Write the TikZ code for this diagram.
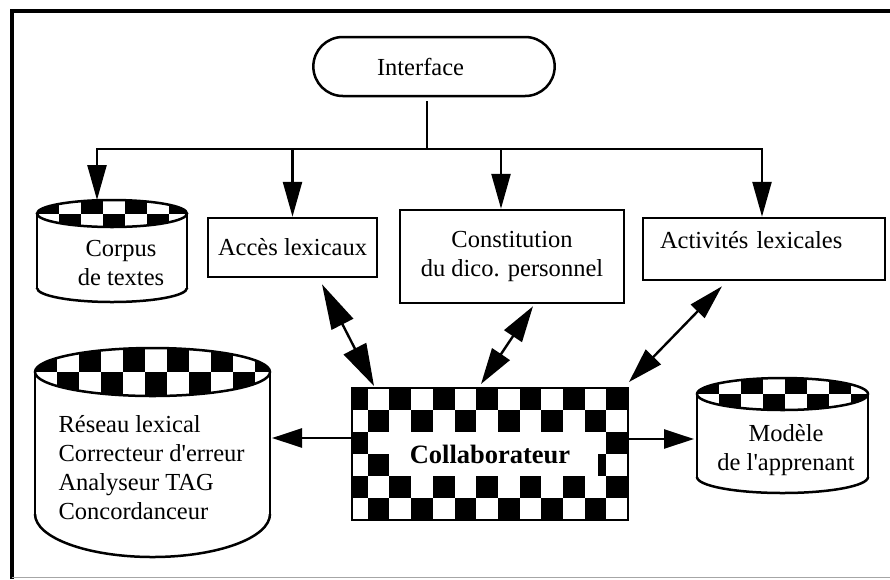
\documentclass[tikz,border=0pt]{standalone}
\usepackage{fontspec}
\setmainfont{Liberation Serif}
\usetikzlibrary{arrows.meta,shapes.misc}

\tikzset{
  trait/.style={line width=2.5pt},
  boite/.style={draw, trait, rectangle, inner sep=4pt},
  texte/.style={font=\fontsize{24.5}{29}\selectfont},
  fleche/.style={trait, -{Triangle[length=35pt,width=19pt]}},
  flechec/.style={trait, -{Triangle[length=30pt,width=19pt]}},
  fleched/.style={line width=2.4pt, {Triangle[length=36pt,width=21pt]}-{Triangle[length=36pt,width=21pt]}}
}

% cylindre : x gauche, x droit, y haut, ry haut, y bas, ry bas
\newcommand{\cuve}[6]{%
  \pgfmathsetmacro\cx{(#1+#2)/2}
  \pgfmathsetmacro\rx{(#2-#1)/2}
  \begin{scope}
    \clip (\cx,#3) ellipse [x radius=\rx, y radius=#4];
    \foreach \i in {0,2,...,10} {
      \fill (#1+\i*22,#3-#4) rectangle ++(22,#4);
      \fill (#1+\i*22+22,#3) rectangle ++(22,#4);
    }
  \end{scope}
  \draw[trait] (\cx,#3) ellipse [x radius=\rx, y radius=#4];
  \draw[trait] (#1,#3) -- (#1,#5) (#2,#3) -- (#2,#5);
  \begin{scope}
    \clip (#1-5,#5) rectangle (#2+5,#5+#6+5);
    \draw[trait] (\cx,#5) ellipse [x radius=\rx, y radius=#6];
  \end{scope}
}

\begin{document}
\begin{tikzpicture}[x=1pt, y=-1pt]
  \useasboundingbox (0,0) rectangle (890,579);
  % cadre
  \draw[line width=3.5pt] (12,579) -- (12,11) -- (890,11);
  \draw[gray!70, line width=1pt] (12,577) -- (890,577);

  % interface et modules
  \node[draw, trait, rounded rectangle, texte, minimum width=248pt, minimum height=59pt,
        text width=114pt, align=left] (iface) at (434,66.5) {Interface};
  \node[boite, texte, minimum width=169pt, minimum height=59pt] (acces) at (292.5,247.5) {Accès lexicaux};
  \node[boite, texte, minimum width=224pt, minimum height=93pt, align=center] (constit) at (512,256.5) {Constitution\\du dico. personnel};
  \node[boite, texte, minimum width=242pt, minimum height=62pt, text width=208pt, text depth=18pt,
        align=left] (activ) at (764,249) {Activités lexicales};

  % bases
  \cuve{37}{187}{213.5}{13.5}{288}{14}
  \cuve{35}{270}{372}{24}{514}{43}
  \cuve{697}{868}{394}{16}{477}{16}
  \node[texte, align=center] (corpus) at (121,263) {Corpus\\de textes};
  \node[texte, align=left, anchor=west] (reseau) at (55,468) {Réseau lexical\\Correcteur d\textquotesingle erreur\\Analyseur TAG\\Concordanceur};
  \node[texte, align=center] (modele) at (786,450) {Modèle\\de l\textquotesingle apprenant};

  % collaborateur en damier
  \begin{scope}
    \clip (352,388) rectangle (628,520);
    \foreach \i in {0,...,12}
      \foreach \j in {0,...,5} {
        \pgfmathtruncatemacro\k{mod(\i+\j,2)}
        \ifnum\k=0 \fill (346+\i*21.7,388+\j*22) rectangle ++(21.7,22); \fi
      }
    \fill[white] (389.4,432) rectangle (598,476);
  \end{scope}
  \node[draw, line width=2pt, minimum width=276pt, minimum height=132pt,
        font=\fontsize{26.5}{30}\selectfont\bfseries] (collab) at (490,454) {Collaborateur};

  % liaisons
  \coordinate (bus) at (427,149);
  \coordinate (corpusH) at (97,200);
  \coordinate (reseauD) at (272,438);
  \coordinate (modeleG) at (694,439);
  \draw[trait] (iface.south -| bus) ++(0,4) -- (bus);
  \draw[fleche] (bus) -| (corpusH);
  \draw[fleche] (bus) -| (acces.north);
  \draw[fleche] (bus) -| ([xshift=-11pt]constit.north);
  \draw[fleche] (bus) -| ([xshift=-2pt]activ.north);
  \draw[fleched, {Triangle[length=45pt,width=24pt]}-{Triangle[length=42pt,width=25pt]}]
    ([xshift=29.5pt, yshift=-6pt]acces.south) -- ([xshift=23pt, yshift=1pt]collab.north west);
  \draw[fleched] ([xshift=21pt, yshift=-2pt]constit.south) -- ([xshift=-9pt, yshift=3pt]collab.north);
  \draw[fleched, {Triangle[length=35pt,width=19pt]}-{Triangle[length=35pt,width=21pt]}]
    ([xshift=-42pt, yshift=-5pt]activ.south) -- ([yshift=5pt]collab.north east);
  \draw[flechec] (collab.west |- reseauD) -- (reseauD);
  \draw[flechec] (collab.east |- modeleG) -- (modeleG);
\end{tikzpicture}
\end{document}
